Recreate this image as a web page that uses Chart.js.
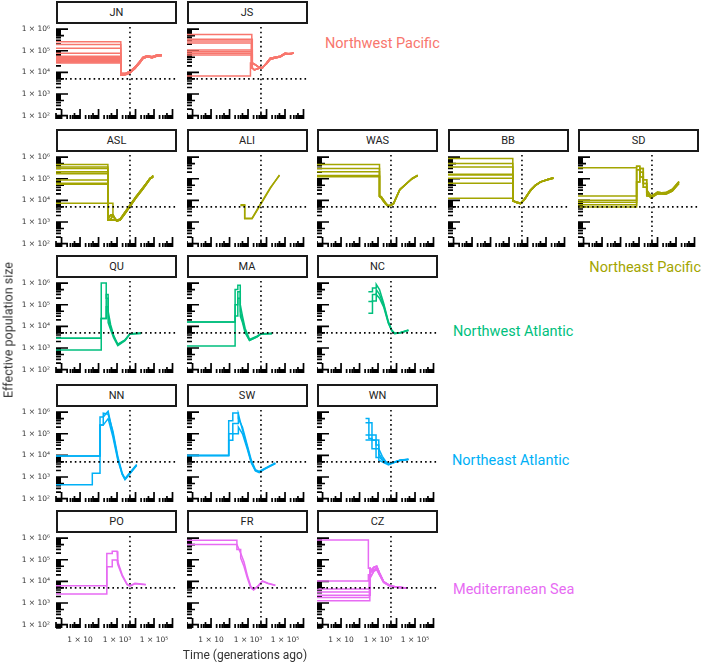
<!DOCTYPE html>
<html>
<head>
<meta charset="utf-8">
<script src="https://cdn.jsdelivr.net/npm/chart.js@4"></script>
<style>
  body { margin: 0; background: #fff; }
  #wrap { position: relative; width: 702px; height: 664px; overflow: hidden; font-family: Roboto, "DejaVu Sans", sans-serif; }
  canvas { position: absolute; }
  .strip { position: absolute; box-sizing: border-box; border: 2px solid #1a1a1a; background: #fff;
           font-size: 11px; color: #222; text-align: center; }
  .region { position: absolute; font-size: 14.5px; line-height: 18px; white-space: nowrap; }
  .axt { position: absolute; font-size: 12px; color: #333; white-space: nowrap; }
</style>
</head>
<body>
<div id="wrap"></div>
<script>
// axis ranges and tick labels
const XMIN = 0.5, XMAX = 1.75e6, YMIN = 70, YMAX = 1.25e6;
const X_TICKS = [10, 1e3, 1e5];
const X_LABELS = ['1 × 10', '1 × 10³', '1 × 10⁵'];
const Y_TICKS = [1e2, 1e3, 1e4, 1e5, 1e6];
const Y_LABELS = ['1 × 10²', '1 × 10³', '1 × 10⁴', '1 × 10⁵', '1 × 10⁶'];
const REF_T = 5000, REF_NE = 5000;

const REGIONS = ['Northwest Pacific', 'Northeast Pacific', 'Northwest Atlantic', 'Northeast Atlantic', 'Mediterranean Sea'];
const REGION_COLORS = ['#F8766D', '#A3A500', '#00BF7D', '#00B0F6', '#E76BF3'];

// --- per population: recent flat Ne, end of flat period, older trajectory (times + Ne per replicate)
const JN_RECENT = [2.6e5, 1.95e5, 1.3e5, 7.6e4, 5.6e4, 5.2e4, 4.8e4, 4.4e4, 4e4, 3.7e4, 3.4e4, 3.2e4, 3e4, 2.7e4];
const JN_END = 1600;
const JN_T = [1600, 3000, 5000, 9300, 1.7e4, 2.5e4, 4.2e4, 7.9e4, 1.45e5, 2.7e5];
const JN_NE = [
  [8000, 8500, 1e4, 1.6e4, 3e4, 4.6e4, 5.6e4, 5e4, 6e4, 6.3e4],
  [7500, 8000, 9500, 1.5e4, 2.8e4, 4.3e4, 5.3e4, 4.8e4, 5.7e4, 6e4],
  [8800, 9200, 1.1e4, 1.75e4, 3.2e4, 4.9e4, 5.9e4, 5.3e4, 6.3e4, 6.6e4]
];

const JS_RECENT = [5.7e5, 3.4e5, 2.8e5, 2.3e5, 1.07e5, 8.9e4, 7.6e4, 6.3e4, 6.8e3];
const JS_END = [1600, 1700, 1600, 1500, 1700, 1600, 1500, 1700, 1350];
const JS_T = [1700, 2200, 3600, 6000, 1e4, 1.6e4, 3e4, 5.6e4, 1e5, 2e5, 2.9e5];
const JS_NE = [
  [2.7e4, 2.4e4, 1.8e4, 1.6e4, 2.7e4, 4.5e4, 5e4, 5.6e4, 7.6e4, 7e4, 8e4],
  [1.6e4, 1.3e4, 1.5e4, 1.7e4, 2.5e4, 4e4, 4.6e4, 5.2e4, 7e4, 7.4e4, 7.6e4]
];

const ASL_RECENT = [4.6e5, 3.5e5, 3e5, 2.1e5, 1.8e5, 1.7e5, 8.7e4, 6.2e4, 5.5e4, 7.4e3];
const ASL_END = [320, 320, 320, 320, 320, 320, 320, 320, 320, 600];
const ASL_T = [320, 450, 600, 800, 1000, 1500, 2500, 5000, 1e4, 2.5e4, 6e4, 9e4];
const ASL_NE = [
  [1300, 1300, 2100, 1400, 1150, 1300, 2400, 5600, 1.3e4, 3.6e4, 1.05e5, 1.3e5],
  [1400, 2100, 2100, 1300, 1200, 1400, 2600, 6000, 1.4e4, 3.9e4, 1e5, 1.2e5],
  [1250, 1250, 1250, 1250, 1100, 1250, 2200, 5200, 1.2e4, 3.3e4, 9.5e4, 1.4e5]
];

const ALI_RECENT = [];
const ALI_END = 0;
const ALI_T = [390, 660, 660, 1650, 4700, 1.6e4, 5e4];
const ALI_NE = [
  [6200, 6200, 1400, 1400, 6200, 3.6e4, 1.5e5],
  [5800, 5800, 1500, 1500, 6800, 3.9e4, 1.4e5]
];

const WAS_RECENT = [4.6e5, 3e5, 2.1e5, 1.4e5, 1.23e5];
const WAS_END = 1200;
const WAS_T = [1200, 1500, 1800, 2500, 3300, 5000, 7000, 1.5e4, 3.6e4, 7e4, 1.4e5];
const WAS_NE = [
  [1.5e4, 1.3e4, 1e4, 7000, 5600, 6000, 7500, 3.2e4, 6.2e4, 1e5, 1.4e5],
  [1.6e4, 1.5e4, 1.2e4, 8000, 6000, 5800, 7000, 3e4, 6e4, 1.05e5, 1.45e5]
];

const BB_RECENT = [8.7e5, 5.1e5, 3.5e5, 1.6e5, 1.5e5, 1.05e5, 6.2e4, 1.26e4];
const BB_END = 1600;
const BB_T = [1600, 2500, 4200, 7000, 1.45e4, 2.6e4, 5e4, 1.2e5, 2.5e5];
const BB_NE = [
  [9300, 8500, 7400, 1.2e4, 3e4, 5e4, 7.2e4, 9e4, 1.05e5],
  [1e4, 8000, 7000, 1.1e4, 2.8e4, 4.8e4, 7e4, 9.2e4, 1.1e5]
];

const SD_RECENT = [3.2e5, 1.6e4, 1.02e4, 8100, 6200, 5000];
const SD_END = 740;
const SD_T = [740, 1100, 1100, 1700, 1700, 2600, 2600, 4400, 1e4, 2.8e4, 6.3e4, 1.45e5];
const SD_NE = [
  [3.8e5, 3.8e5, 1.2e5, 1.2e5, 4e4, 4e4, 1.6e4, 1.5e4, 2.4e4, 2.1e4, 3e4, 6.8e4],
  [2.6e5, 2.6e5, 2e5, 2e5, 6e4, 6e4, 2.2e4, 1.3e4, 2e4, 1.9e4, 2.7e4, 6e4],
  [7e4, 7e4, 3e5, 3e5, 9e4, 9e4, 3e4, 1.6e4, 2.2e4, 2.3e4, 3.3e4, 7.4e4]
];

const QU_RECENT = [2800, 820];
const QU_END = [130, 110];
const QU_T = [130, 140, 140, 260, 260, 330, 330, 450, 650, 1100, 2700, 5000, 2e4];
const QU_NE = [
  [2800, 2800, 1e6, 1e6, 2e5, 2e5, 5e4, 1.2e4, 4000, 1400, 2300, 4500, 4800],
  [820, 820, 2.3e4, 2.3e4, 3e5, 3e5, 2.5e4, 9000, 3500, 1500, 2400, 4600, 4900],
  [2800, 2800, 2.3e4, 2.3e4, 8e4, 8e4, 1.5e4, 7000, 3000, 1300, 2200, 4400, 4700]
];

const MA_RECENT = [1.6e4, 1250];
const MA_END = 200;
const MA_T = [200, 200, 280, 280, 380, 380, 500, 700, 1200, 3000, 5000, 2e4];
const MA_NE = [
  [1.6e4, 5e5, 5e5, 8e5, 8e5, 1e5, 3e4, 8000, 2500, 3500, 4600, 4800],
  [1250, 1e5, 1e5, 4e5, 4e5, 5e4, 2e4, 6000, 2300, 3300, 4500, 4700],
  [1.6e4, 3e4, 3e4, 2e5, 2e5, 3e4, 1.5e4, 5000, 2200, 3200, 4400, 4600]
];

const NC_RECENT = [];
const NC_END = 0;
const NC_T = [300, 500, 500, 800, 800, 1200, 2000, 3600, 5500, 8000, 1.6e4, 4.4e4];
const NC_NE = [
  [4e5, 4e5, 6e5, 6e5, 8.7e5, 5e5, 1.2e5, 1.7e4, 6800, 4800, 5200, 6800],
  [1.4e5, 1.4e5, 3e5, 3e5, 5e5, 3e5, 1e5, 1.5e4, 6500, 4700, 5100, 6600],
  [4e4, 4e4, 1.5e5, 1.5e5, 3e5, 2e5, 8e4, 1.4e4, 6200, 4600, 5000, 6500]
];

const NN_RECENT = [9300, 440, 9300];
const NN_END = [60, 46, 60];
const NN_T = [60, 120, 120, 180, 180, 330, 600, 1100, 1900, 2700, 5000, 1.15e4];
const NN_NE = [
  [9300, 9300, 2.5e5, 2.5e5, 6e5, 1.1e6, 1e5, 7400, 1400, 800, 1500, 3600],
  [1500, 1500, 2.5e5, 2.5e5, 2.5e5, 5e5, 7e4, 6000, 1300, 750, 1400, 3400],
  [9300, 9300, 6e5, 6e5, 9e5, 8e5, 1.3e5, 9000, 1500, 850, 1600, 3800]
];

const SW_RECENT = [9800];
const SW_END = 90;
const SW_T = [90, 90, 150, 150, 300, 300, 500, 900, 1500, 2500, 4000, 8000, 3e4];
const SW_NE = [
  [9800, 4e5, 4e5, 9e5, 9e5, 5e5, 2e5, 3e4, 6000, 2200, 1800, 2500, 4500],
  [9800, 1e5, 1e5, 3e5, 3e5, 8e5, 1.5e5, 2.5e4, 5000, 2000, 1700, 2400, 4300],
  [9800, 5e4, 5e4, 1e5, 1e5, 2e5, 1e5, 2e4, 4500, 1900, 1600, 2300, 4200]
];

const WN_RECENT = [];
const WN_END = 0;
const WN_T = [210, 320, 320, 470, 470, 780, 780, 1100, 1100, 1700, 2500, 3600, 7000, 1.6e4, 4.4e4];
const WN_NE = [
  [5.1e5, 5.1e5, 6e4, 6e4, 2e4, 2e4, 8000, 8000, 6000, 5000, 4200, 4000, 4800, 6000, 6500],
  [3.2e5, 3.2e5, 3.2e5, 3.2e5, 5e4, 5e4, 2e4, 2e4, 9000, 6000, 4500, 3600, 4500, 5800, 6400],
  [8.7e4, 8.7e4, 8.7e4, 8.7e4, 8.7e4, 8.7e4, 3e4, 3e4, 1.2e4, 7000, 5000, 3900, 4700, 6000, 6600],
  [5.1e4, 5.1e4, 5.1e4, 5.1e4, 5.1e4, 5.1e4, 5.1e4, 5.1e4, 2e4, 9000, 5500, 4200, 4800, 6100, 6700]
];

const PO_RECENT = [6200, 2600];
const PO_END = 280;
const PO_T = [280, 550, 550, 1000, 1100, 1900, 3500, 5000, 9300, 3.6e4];
const PO_NE = [
  [1.95e5, 1.95e5, 2.45e5, 2.45e5, 8e4, 2e4, 7400, 6300, 8100, 7100],
  [4.8e4, 4.8e4, 9.8e4, 9.8e4, 6e4, 1.8e4, 7000, 6000, 7800, 7000]
];

const FR_RECENT = [8e5, 5e5];
const FR_END = [170, 250];
const FR_T = [170, 250, 250, 400, 400, 600, 900, 1400, 2000, 3500, 6000, 1.2e4, 3e4];
const FR_NE = [
  [8e5, 8e5, 3e5, 3e5, 1.2e5, 5e4, 1.5e4, 5000, 4000, 6000, 1e4, 8000, 6500],
  [5e5, 5e5, 5e5, 2e5, 2e5, 8e4, 2e4, 6000, 4200, 6200, 1.05e4, 8200, 6700]
];

const CZ_RECENT = [8.1e5, 1.05e4, 4500, 3200, 2300, 1800, 1260];
const CZ_END = [300, 300, 340, 360, 380, 340, 360];
const CZ_T = [300, 380, 380, 600, 850, 1200, 2000, 4500, 1e4, 3.5e4];
const CZ_NE = [
  [4e4, 4e4, 3e4, 4.5e4, 5e4, 2.5e4, 9800, 6300, 5500, 5000],
  [2e4, 2e4, 2.5e4, 3.5e4, 4e4, 2.2e4, 9500, 6200, 5400, 4900],
  [1e4, 1e4, 1.5e4, 3e4, 3.5e4, 2e4, 9000, 6000, 5300, 4900]
];

const PANELS = [
  {name: 'JN', col: 0, row: 0, region: 0, recent: JN_RECENT, end: JN_END, t: JN_T, ne: JN_NE},
  {name: 'JS', col: 1, row: 0, region: 0, recent: JS_RECENT, end: JS_END, t: JS_T, ne: JS_NE},
  {name: 'ASL', col: 0, row: 1, region: 1, recent: ASL_RECENT, end: ASL_END, t: ASL_T, ne: ASL_NE},
  {name: 'ALI', col: 1, row: 1, region: 1, recent: ALI_RECENT, end: ALI_END, t: ALI_T, ne: ALI_NE},
  {name: 'WAS', col: 2, row: 1, region: 1, recent: WAS_RECENT, end: WAS_END, t: WAS_T, ne: WAS_NE},
  {name: 'BB', col: 3, row: 1, region: 1, recent: BB_RECENT, end: BB_END, t: BB_T, ne: BB_NE},
  {name: 'SD', col: 4, row: 1, region: 1, recent: SD_RECENT, end: SD_END, t: SD_T, ne: SD_NE},
  {name: 'QU', col: 0, row: 2, region: 2, recent: QU_RECENT, end: QU_END, t: QU_T, ne: QU_NE},
  {name: 'MA', col: 1, row: 2, region: 2, recent: MA_RECENT, end: MA_END, t: MA_T, ne: MA_NE},
  {name: 'NC', col: 2, row: 2, region: 2, recent: NC_RECENT, end: NC_END, t: NC_T, ne: NC_NE},
  {name: 'NN', col: 0, row: 3, region: 3, recent: NN_RECENT, end: NN_END, t: NN_T, ne: NN_NE},
  {name: 'SW', col: 1, row: 3, region: 3, recent: SW_RECENT, end: SW_END, t: SW_T, ne: SW_NE},
  {name: 'WN', col: 2, row: 3, region: 3, recent: WN_RECENT, end: WN_END, t: WN_T, ne: WN_NE},
  {name: 'PO', col: 0, row: 4, region: 4, recent: PO_RECENT, end: PO_END, t: PO_T, ne: PO_NE},
  {name: 'FR', col: 1, row: 4, region: 4, recent: FR_RECENT, end: FR_END, t: FR_T, ne: FR_NE},
  {name: 'CZ', col: 2, row: 4, region: 4, recent: CZ_RECENT, end: CZ_END, t: CZ_T, ne: CZ_NE}
];

// layout (px)
const COL_X = [56, 186.5, 317, 447.5, 578];
const ROW_Y = [27, 155, 281, 410, 536];
const PW = 121, PH = 92, YAXIS_W = 56, XAXIS_H = 24, PAD_T = 8;

// [left, centre y]; a null left means right-aligned to the page edge
const REGION_POS = [[325, 44], [null, 268], [453, 332], [452, 461], [453, 590]];

// turn a panel into one polyline per replicate
function buildCurves(p){
  const n = Math.max(p.recent.length, p.ne.length);
  const out = [];
  for (let i = 0; i < n; i++){
    const ne = p.ne[i % p.ne.length];
    const pts = [];
    let j0 = 0;
    if (p.recent.length){
      const r = p.recent[i % p.recent.length];
      const end = Array.isArray(p.end) ? p.end[i % p.end.length] : p.end;
      pts.push({x: XMIN, y: r}, {x: end, y: r});
      while (j0 < p.t.length && p.t[j0] < end) j0++;
      pts.push({x: end, y: ne[j0]});
    }
    for (let j = j0; j < p.t.length; j++) pts.push({x: p.t[j], y: ne[j]});
    out.push(pts);
  }
  return out;
}

// annotation-style log ticks inside the panel + dotted reference lines
const panelDeco = {
  id: 'panelDeco',
  beforeDatasetsDraw(chart){
    const {ctx, chartArea: a, scales: {x, y}} = chart;
    ctx.save();
    ctx.strokeStyle = '#000';
    ctx.lineWidth = 1.7;
    ctx.beginPath();
    for (let k = -1; k <= 6; k++){
      for (let m = 1; m <= 9; m++){
        const v = m * Math.pow(10, k);
        if (v >= YMIN && v <= YMAX){
          const py = y.getPixelForValue(v);
          const len = m === 1 ? 12 : (m === 5 ? 8 : 5);
          ctx.moveTo(a.left, py); ctx.lineTo(a.left + len, py);
        }
        if (v >= XMIN && v <= XMAX){
          const px = x.getPixelForValue(v);
          const len = m === 1 ? 10 : (m === 5 ? 6 : 4);
          ctx.moveTo(px, a.bottom); ctx.lineTo(px, a.bottom - len);
        }
      }
    }
    ctx.stroke();
    ctx.restore();
  },
  afterDatasetsDraw(chart){
    const {ctx, chartArea: a, scales: {x, y}} = chart;
    ctx.save();
    ctx.strokeStyle = '#000';
    ctx.lineWidth = 1.6;
    ctx.setLineDash([1.6, 3.1]);
    ctx.beginPath();
    const px = x.getPixelForValue(REF_T), py = y.getPixelForValue(REF_NE);
    ctx.moveTo(px, a.top); ctx.lineTo(px, a.bottom);
    ctx.moveTo(a.left, py); ctx.lineTo(a.right, py);
    ctx.stroke();
    ctx.restore();
  }
};

const wrap = document.getElementById('wrap');
const TICK_FONT = {family: '"DejaVu Sans", sans-serif', size: 7.5};

PANELS.forEach(p => {
  const hasY = p.col === 0;
  const hasX = p.row === 4;
  const left = COL_X[p.col] - (hasY ? YAXIS_W : 0);
  const top = ROW_Y[p.row];
  const w = PW + (hasY ? YAXIS_W : 0);
  const h = PH + PAD_T + (hasX ? XAXIS_H : 0);

  // strip header
  const s = document.createElement('div');
  s.className = 'strip';
  s.style.left = COL_X[p.col] + 'px';
  s.style.top = (top - 26) + 'px';
  s.style.width = PW + 'px';
  s.style.height = '23px';
  s.style.lineHeight = '19px';
  s.textContent = p.name;
  wrap.appendChild(s);

  // canvas starts PAD_T above the plot so the top tick label is not cut
  const cv = document.createElement('canvas');
  cv.width = w; cv.height = h;
  cv.style.left = left + 'px'; cv.style.top = (top - PAD_T) + 'px';
  cv.style.width = w + 'px'; cv.style.height = h + 'px';
  wrap.appendChild(cv);

  const color = REGION_COLORS[p.region];
  const datasets = buildCurves(p).map(pts => ({
    data: pts, borderColor: color, borderWidth: 1.5, pointRadius: 0, fill: false, tension: 0
  }));

  new Chart(cv, {
    type: 'line',
    data: {datasets},
    options: {
      responsive: false, animation: false, devicePixelRatio: 1,
      layout: {padding: {top: PAD_T, left: 0, right: 0, bottom: 0}},
      plugins: {legend: {display: false}, tooltip: {enabled: false}},
      scales: {
        x: {
          type: 'logarithmic', min: XMIN, max: XMAX, display: hasX,
          grid: {display: false, drawTicks: false}, border: {display: false},
          ticks: {font: TICK_FONT, color: '#333', padding: 8, maxRotation: 0, autoSkip: false,
                  callback: (v, i) => X_LABELS[i]},
          afterBuildTicks: sc => { sc.ticks = X_TICKS.map(v => ({value: v})); },
          afterFit: sc => { sc.height = hasX ? XAXIS_H : 0; sc.paddingLeft = 0; sc.paddingRight = 0; }
        },
        y: {
          type: 'logarithmic', min: YMIN, max: YMAX, display: hasY,
          grid: {display: false, drawTicks: false}, border: {display: false},
          ticks: {font: TICK_FONT, color: '#333', padding: 6, autoSkip: false,
                  callback: (v, i) => Y_LABELS[i]},
          afterBuildTicks: sc => { sc.ticks = Y_TICKS.map(v => ({value: v})); },
          afterFit: sc => { sc.width = hasY ? YAXIS_W : 0; sc.paddingTop = 0; sc.paddingBottom = 0; }
        }
      }
    },
    plugins: [panelDeco]
  });
});

// region labels
REGIONS.forEach((r, i) => {
  const d = document.createElement('div');
  d.className = 'region';
  d.style.color = REGION_COLORS[i];
  if (REGION_POS[i][0] === null) d.style.right = '1px';
  else d.style.left = REGION_POS[i][0] + 'px';
  d.style.top = (REGION_POS[i][1] - 9) + 'px';
  d.textContent = r;
  wrap.appendChild(d);
});

// axis titles
const yt = document.createElement('div');
yt.className = 'axt';
yt.textContent = 'Effective population size';
yt.style.left = '8px'; yt.style.top = '330px';
yt.style.fontSize = '12.5px';
yt.style.transform = 'translate(-50%, -50%) rotate(-90deg)';
wrap.appendChild(yt);

const xt = document.createElement('div');
xt.className = 'axt';
xt.textContent = 'Time (generations ago)';
xt.style.left = '245px'; xt.style.top = '655px';
xt.style.transform = 'translate(-50%, -50%)';
wrap.appendChild(xt);
</script>
</body>
</html>
